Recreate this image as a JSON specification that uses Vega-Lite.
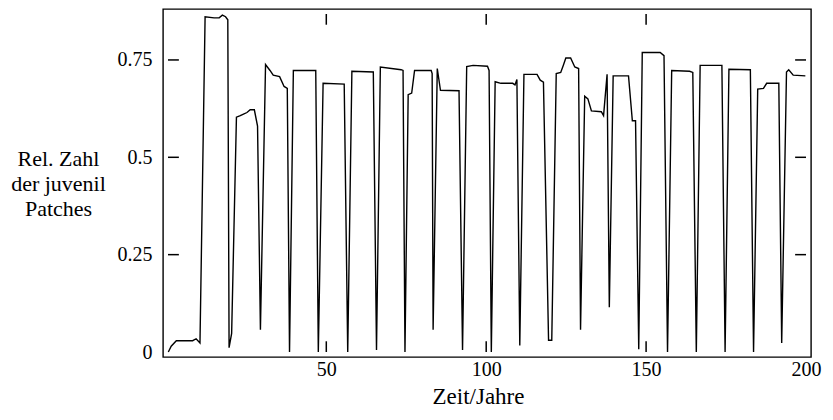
{
  "$schema": "https://vega.github.io/schema/vega-lite/v6.json",
  "width": 648,
  "height": 348,
  "autosize": {"type": "none"},
  "padding": {"left": 163, "top": 9, "right": 22, "bottom": 63},
  "background": "white",
  "config": {
    "view": {"stroke": "black", "strokeWidth": 1.4},
    "axis": {
      "domain": false,
      "grid": false,
      "ticks": false,
      "labelFont": "Liberation Serif",
      "labelFontSize": 20,
      "labelColor": "black",
      "titleFont": "Liberation Serif",
      "titleFontSize": 22,
      "titleFontWeight": "normal",
      "titleColor": "black"
    }
  },
  "datasets": {
    "series": [
      {"t": 0.6, "v": 0.0}, {"t": 1.5, "v": 0.015}, {"t": 3.1, "v": 0.029}, {"t": 8.2, "v": 0.029},
      {"t": 9.3, "v": 0.034}, {"t": 10.5, "v": 0.023}, {"t": 12.1, "v": 0.861}, {"t": 14.9, "v": 0.858},
      {"t": 16.5, "v": 0.858}, {"t": 17.5, "v": 0.865}, {"t": 18.5, "v": 0.861}, {"t": 19.2, "v": 0.853},
      {"t": 19.6, "v": 0.011}, {"t": 20.4, "v": 0.048}, {"t": 21.9, "v": 0.603}, {"t": 23.1, "v": 0.607},
      {"t": 24.1, "v": 0.611}, {"t": 25.2, "v": 0.615}, {"t": 26.2, "v": 0.622}, {"t": 27.5, "v": 0.622},
      {"t": 28.5, "v": 0.58}, {"t": 29.4, "v": 0.057}, {"t": 31.0, "v": 0.738}, {"t": 32.4, "v": 0.723},
      {"t": 33.4, "v": 0.711}, {"t": 35.4, "v": 0.707}, {"t": 36.8, "v": 0.682}, {"t": 37.8, "v": 0.677},
      {"t": 38.5, "v": 0.0}, {"t": 39.7, "v": 0.723}, {"t": 46.7, "v": 0.723}, {"t": 47.5, "v": 0.0},
      {"t": 49.0, "v": 0.69}, {"t": 55.6, "v": 0.688}, {"t": 56.7, "v": 0.0}, {"t": 58.0, "v": 0.721},
      {"t": 64.7, "v": 0.719}, {"t": 65.7, "v": 0.005}, {"t": 66.9, "v": 0.732}, {"t": 73.4, "v": 0.725},
      {"t": 74.0, "v": 0.723}, {"t": 74.6, "v": 0.0}, {"t": 75.6, "v": 0.661}, {"t": 76.7, "v": 0.665},
      {"t": 77.6, "v": 0.723}, {"t": 82.8, "v": 0.723}, {"t": 83.1, "v": 0.715}, {"t": 83.4, "v": 0.057},
      {"t": 84.7, "v": 0.728}, {"t": 85.7, "v": 0.672}, {"t": 91.5, "v": 0.671}, {"t": 92.6, "v": 0.005},
      {"t": 93.9, "v": 0.733}, {"t": 95.9, "v": 0.736}, {"t": 100.4, "v": 0.734}, {"t": 100.9, "v": 0.723},
      {"t": 101.6, "v": 0.0}, {"t": 102.8, "v": 0.694}, {"t": 104.6, "v": 0.69}, {"t": 108.3, "v": 0.69},
      {"t": 109.0, "v": 0.686}, {"t": 109.6, "v": 0.7}, {"t": 110.5, "v": 0.017}, {"t": 111.8, "v": 0.713},
      {"t": 115.9, "v": 0.713}, {"t": 116.9, "v": 0.698}, {"t": 117.9, "v": 0.693}, {"t": 119.5, "v": 0.03},
      {"t": 120.5, "v": 0.03}, {"t": 121.9, "v": 0.715}, {"t": 123.3, "v": 0.718}, {"t": 124.1, "v": 0.736},
      {"t": 124.9, "v": 0.755}, {"t": 126.4, "v": 0.755}, {"t": 127.7, "v": 0.732}, {"t": 128.9, "v": 0.728},
      {"t": 129.5, "v": 0.057}, {"t": 130.8, "v": 0.657}, {"t": 131.8, "v": 0.65}, {"t": 132.9, "v": 0.619},
      {"t": 136.0, "v": 0.617}, {"t": 136.7, "v": 0.607}, {"t": 137.8, "v": 0.713}, {"t": 138.5, "v": 0.115},
      {"t": 139.7, "v": 0.709}, {"t": 144.5, "v": 0.709}, {"t": 145.7, "v": 0.594}, {"t": 146.7, "v": 0.594},
      {"t": 147.7, "v": 0.007}, {"t": 148.8, "v": 0.769}, {"t": 154.4, "v": 0.769}, {"t": 155.6, "v": 0.761},
      {"t": 156.7, "v": 0.0}, {"t": 158.0, "v": 0.723}, {"t": 163.6, "v": 0.721}, {"t": 164.6, "v": 0.718},
      {"t": 165.7, "v": 0.0}, {"t": 166.9, "v": 0.736}, {"t": 173.7, "v": 0.736}, {"t": 174.7, "v": 0.0},
      {"t": 175.9, "v": 0.726}, {"t": 182.6, "v": 0.725}, {"t": 183.6, "v": 0.0}, {"t": 184.9, "v": 0.675},
      {"t": 186.7, "v": 0.677}, {"t": 187.7, "v": 0.69}, {"t": 191.5, "v": 0.69}, {"t": 192.4, "v": 0.023},
      {"t": 193.9, "v": 0.719}, {"t": 194.6, "v": 0.725}, {"t": 196.0, "v": 0.711}, {"t": 199.8, "v": 0.709}
    ],
    "xticks": [{"t": 50}, {"t": 100}, {"t": 150}],
    "yticks": [{"v": 0.25}, {"v": 0.5}, {"v": 0.75}]
  },
  "layer": [
    {
      "data": {"name": "series"},
      "mark": {"type": "line", "color": "black", "strokeWidth": 1.4, "clip": true},
      "encoding": {
        "x": {
          "field": "t", "type": "quantitative",
          "scale": {"domain": [0.5, 200], "nice": false, "zero": false},
          "axis": {
            "orient": "bottom",
            "values": [50, 100, 150, 200],
            "format": "d",
            "labelPadding": 2,
            "title": "Zeit/Jahre",
            "titleFontSize": 23,
            "titleAnchor": null,
            "titleX": 315,
            "titleY": 46,
            "titleAlign": "center",
            "titleBaseline": "alphabetic"
          }
        },
        "y": {
          "field": "v", "type": "quantitative",
          "scale": {"domain": [0, 0.868], "nice": false},
          "axis": {
            "orient": "left",
            "values": [0, 0.25, 0.5, 0.75],
            "format": ".2~f",
            "labelPadding": 11,
            "title": ["Rel. Zahl", "der juvenil", "Patches"],
            "titleAngle": 0,
            "titleX": -105,
            "titleY": 156,
            "titleAlign": "center",
            "titleBaseline": "alphabetic",
            "titleLineHeight": 25
          }
        }
      }
    },
    {
      "data": {"name": "xticks"},
      "mark": {"type": "bar", "color": "#000000", "width": 1.5, "opacity": 1},
      "encoding": {
        "x": {"field": "t", "type": "quantitative"},
        "y": {"datum": 0, "type": "quantitative"},
        "y2": {"datum": 0.0275}
      }
    },
    {
      "data": {"name": "xticks"},
      "mark": {"type": "bar", "color": "#000000", "width": 1.5, "opacity": 1},
      "encoding": {
        "x": {"field": "t", "type": "quantitative"},
        "y": {"datum": 0.8405, "type": "quantitative"},
        "y2": {"datum": 0.868}
      }
    },
    {
      "data": {"name": "yticks"},
      "mark": {"type": "bar", "color": "#000000", "height": 1.5, "orient": "horizontal", "opacity": 1},
      "encoding": {
        "y": {"field": "v", "type": "quantitative"},
        "x": {"datum": 0.5, "type": "quantitative"},
        "x2": {"datum": 3.9}
      }
    },
    {
      "data": {"name": "yticks"},
      "mark": {"type": "bar", "color": "#000000", "height": 1.5, "orient": "horizontal", "opacity": 1},
      "encoding": {
        "y": {"field": "v", "type": "quantitative"},
        "x": {"datum": 196.6, "type": "quantitative"},
        "x2": {"datum": 200}
      }
    }
  ]
}
